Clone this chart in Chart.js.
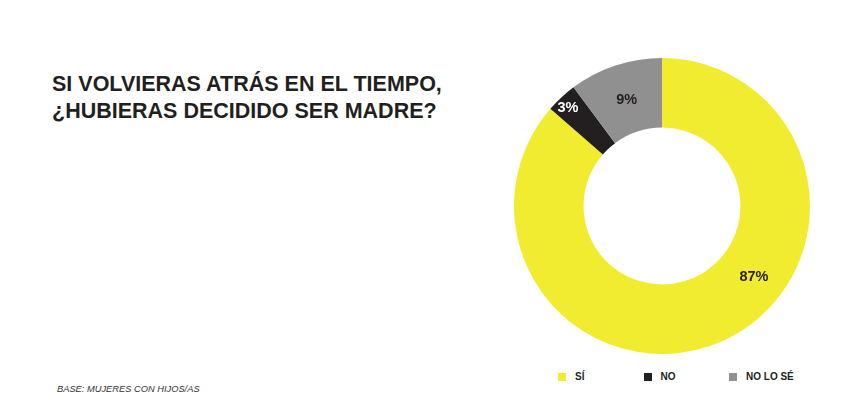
<!DOCTYPE html>
<html>
<head>
<meta charset="utf-8">
<script src="https://cdn.jsdelivr.net/npm/chart.js@4"></script>
<style>
  html, body { margin: 0; padding: 0; background: #fff; }
  body { width: 868px; height: 419px; position: relative; overflow: hidden; font-family: "Liberation Sans", Arial, sans-serif; color: #231f20; }
  #title { position: absolute; left: 52px; top: 71px; font-size: 21.5px; font-weight: bold; line-height: 27px; margin: 0; }
  #base { position: absolute; left: 57px; top: 383.5px; font-size: 9.3px; font-style: italic; color: #333; }
  #chartBox { position: absolute; left: 514px; top: 58px; width: 296px; height: 296px; }
  #legend { position: absolute; left: 558px; top: 371px; display: flex; }
  .item { display: flex; align-items: center; width: 85.5px; font-size: 10px; font-weight: bold; }
  .item span.box { width: 8px; height: 8px; margin-right: 9px; }
</style>
</head>
<body>
<h1 id="title">SI VOLVIERAS ATRÁS EN EL TIEMPO,<br>¿HUBIERAS DECIDIDO SER MADRE?</h1>
<div id="chartBox"><canvas id="chart"></canvas></div>
<div id="legend"></div>
<div id="base">BASE: MUJERES CON HIJOS/AS</div>

<script>
// respuestas
const labels = ['SÍ', 'NO', 'NO LO SÉ'];
// porcentajes tal como se ven en el gráfico
const values = [86.4, 3.4, 10.2];
const pctLabels = ['87%', '3%', '9%'];
const colors = ['#f2ec30', '#231f20', '#919090'];

// dónde va cada etiqueta dentro de su sector (fracción del ángulo y del grosor)
const labelPlaces = [
  { angle: 0.41, depth: 0.54, color: '#231f20' },
  { angle: 0.41, depth: 0.82, color: '#ffffff' },
  { angle: 0.5, depth: 0.48, color: '#231f20' }
];

const sliceLabels = {
  id: 'sliceLabels',
  afterDatasetsDraw(chart) {
    const ctx = chart.ctx;
    const arcs = chart.getDatasetMeta(0).data;
    ctx.save();
    ctx.font = 'bold 14.5px "Liberation Sans", Arial, sans-serif';
    ctx.textAlign = 'center';
    ctx.textBaseline = 'middle';
    arcs.forEach((arc, i) => {
      const p = arc.getProps(['x', 'y', 'startAngle', 'endAngle', 'innerRadius', 'outerRadius']);
      const place = labelPlaces[i];
      const a = p.startAngle + (p.endAngle - p.startAngle) * place.angle;
      const r = p.innerRadius + (p.outerRadius - p.innerRadius) * place.depth;
      ctx.fillStyle = place.color;
      ctx.fillText(pctLabels[i], p.x + Math.cos(a) * r, p.y + Math.sin(a) * r);
    });
    ctx.restore();
  }
};

const chart = new Chart(document.getElementById('chart'), {
  type: 'doughnut',
  data: {
    labels: labels,
    datasets: [{
      data: values,
      backgroundColor: colors,
      borderWidth: 0
    }]
  },
  options: {
    responsive: true,
    maintainAspectRatio: false,
    animation: false,
    cutout: '53%',
    plugins: {
      legend: { display: false },
      tooltip: { enabled: false }
    }
  },
  plugins: [sliceLabels]
});

// leyenda en html, sacada de los datos del gráfico
function buildLegend(chart) {
  const box = document.getElementById('legend');
  chart.data.labels.forEach((label, i) => {
    const item = document.createElement('div');
    item.className = 'item';
    const sq = document.createElement('span');
    sq.className = 'box';
    sq.style.background = chart.data.datasets[0].backgroundColor[i];
    item.appendChild(sq);
    item.appendChild(document.createTextNode(label));
    box.appendChild(item);
  });
}
buildLegend(chart);
</script>
</body>
</html>
